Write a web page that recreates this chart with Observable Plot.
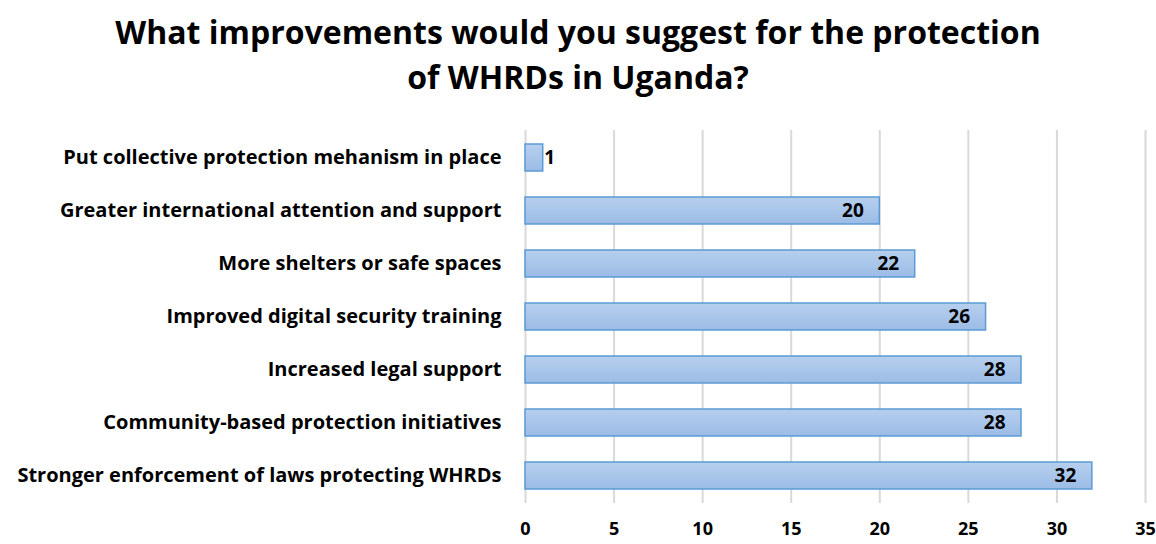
<!DOCTYPE html>
<html>
<head>
<meta charset="utf-8">
<script src="https://cdn.jsdelivr.net/npm/d3@7"></script>
<script src="https://cdn.jsdelivr.net/npm/@observablehq/plot@0.6"></script>
<style>
  html, body { margin: 0; padding: 0; background: #fff; overflow: hidden; }
  #title { height: 110px; box-sizing: border-box; padding-top: 9px; text-align: center;
    font-family: "Open Sans", sans-serif; font-weight: 700; font-size: 32px; line-height: 45px; color: #000; white-space: nowrap; }
  #chart svg { display: block; }
  svg text { font-family: "Open Sans", sans-serif; }
</style>
</head>
<body>
<div id="title">What improvements would you suggest for the protection<br>of WHRDs in Uganda?</div>
<div id="chart"></div>
<script>
const categories = [
  "Put collective protection mehanism in place",
  "Greater international attention and support",
  "More shelters or safe spaces",
  "Improved digital security training",
  "Increased legal support",
  "Community-based protection initiatives",
  "Stronger enforcement of laws protecting WHRDs"
];
const values = [1, 20, 22, 26, 28, 28, 32];
const xTicks = [0, 5, 10, 15, 20, 25, 30, 35];

const data = categories.map((c, i) => ({category: c, value: values[i]}));

const chart = Plot.plot({
  width: 1156,
  height: 434,
  marginLeft: 525,
  marginRight: 11,
  marginTop: 20,
  marginBottom: 41,
  style: {fontFamily: "'Open Sans', sans-serif", overflow: "visible"},
  x: {domain: [0, 35], ticks: xTicks, grid: false, label: null},
  y: {domain: categories, paddingInner: 0.5, paddingOuter: 0.25, label: null},
  marks: [
    Plot.ruleX(xTicks, {stroke: "#d9d9d9", strokeWidth: 2}),
    Plot.barX(data, {y: "category", x: "value", fill: "url(#barGrad)", stroke: "#5b9bd5", strokeWidth: 1.5}),
    Plot.text(data.filter(d => d.value >= 5), {y: "category", x: "value", text: d => String(d.value),
      textAnchor: "end", dx: -16, fontSize: 19, fontWeight: 700, fill: "#000"}),
    Plot.text(data.filter(d => d.value < 5), {y: "category", x: "value", text: d => String(d.value),
      textAnchor: "start", dx: 1, fontSize: 19, fontWeight: 700, fill: "#000"}),
    Plot.axisY({tickSize: 0, tickPadding: 24, fontSize: 20, fontWeight: 700, fill: "#000", label: null}),
    Plot.axisX({ticks: xTicks, tickSize: 0, tickPadding: 19, fontSize: 18, fontWeight: 700, fill: "#000", label: null})
  ]
});

const ns = "http://www.w3.org/2000/svg";
const defs = document.createElementNS(ns, "defs");
defs.innerHTML = '<linearGradient id="barGrad" x1="0" y1="0" x2="0" y2="1">' +
  '<stop offset="0" stop-color="#b7cfee"/><stop offset="1" stop-color="#9bbce6"/></linearGradient>';
chart.insertBefore(defs, chart.firstChild);
document.getElementById("chart").appendChild(chart);
</script>
</body>
</html>
